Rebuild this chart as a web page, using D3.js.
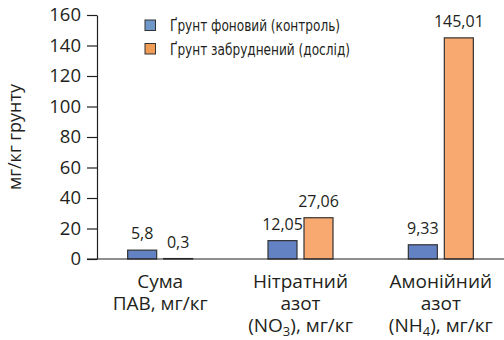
<!DOCTYPE html>
<html>
<head>
<meta charset="utf-8">
<script src="https://cdn.jsdelivr.net/npm/d3@7"></script>
<style>
  body { margin: 0; background: #fff; }
  text { font-family: "Open Sans", sans-serif; fill: #231f20; }
</style>
</head>
<body>
<div id="chart-area"></div>
<script>
// data
const categories = ["Сума ПАВ", "Нітратний азот", "Амонійний азот"];
const categoryLines = [
    ["Сума", "ПАВ, мг/кг"],
    ["Нітратний", "азот", "(NO_3), мг/кг"],
    ["Амонійний", "азот", "(NH_4), мг/кг"]
];
const seriesNames = ["Ґрунт фоновий (контроль)", "Ґрунт забруднений (дослід)"];
const background = [5.8, 12.05, 9.33];
const polluted = [0.3, 27.06, 145.01];
const yTicks = [0, 20, 40, 60, 80, 100, 120, 140, 160];

const width = 504;
const height = 340;
const barColors = ["#6282c3", "#f7a970"];
const legendColors = ["#6f98c9", "#ef9c57"];
const legendWidths = [170, 180];

const svg = d3.select("#chart-area")
    .append("svg")
    .attr("width", width)
    .attr("height", height);

const y = d3.scaleLinear().domain([0, 160]).range([259, 15]);
const x = d3.scaleBand().domain(categories).range([90, 511]);
const xs = d3.scaleBand()
    .domain([0, 1])
    .range([-32.5, 32.5])
    .paddingInner(0.194);

// y axis
const leftAxis = d3.axisLeft(y)
    .tickValues(yTicks)
    .tickSize(10)
    .tickSizeOuter(0)
    .tickPadding(6);
const yg = svg.append("g")
    .attr("transform", "translate(97,0)")
    .call(leftAxis);
yg.selectAll("path, line").attr("stroke", "#231f20").attr("stroke-width", 1.2);
yg.selectAll("text")
    .attr("font-size", "18.5px")
    .style("font-family", "'Open Sans', sans-serif")
    .attr("fill", "#231f20");

svg.append("text")
    .attr("transform", "translate(14,137) rotate(-90)")
    .attr("text-anchor", "middle")
    .attr("dominant-baseline", "central")
    .attr("font-size", "18px")
    .text("мг/кг грунту");

// bars
const rows = categories.map((c, i) => ({ cat: c, values: [background[i], polluted[i]] }));

const groups = svg.selectAll(".group")
    .data(rows)
    .enter()
    .append("g")
    .attr("class", "group")
    .attr("transform", (d) => "translate(" + (x(d.cat) + x.bandwidth() / 2) + ",0)");

groups.selectAll("rect")
    .data((d) => d.values)
    .enter()
    .append("rect")
    .attr("x", (d, i) => xs(i))
    .attr("y", (d) => y(d))
    .attr("width", xs.bandwidth())
    .attr("height", (d) => y(0) - y(d))
    .attr("fill", (d, i) => barColors[i])
    .attr("stroke", "#333")
    .attr("stroke-width", 1.2);

groups.selectAll(".value")
    .data((d) => d.values)
    .enter()
    .append("text")
    .attr("class", "value")
    .attr("x", (d, i) => xs(i) + xs.bandwidth() / 2)
    .attr("y", (d) => y(d) - 11)
    .attr("text-anchor", "middle")
    .attr("font-size", "16px")
    .text((d) => String(d).replace(".", ","));

// baseline
svg.append("line")
    .attr("x1", 87)
    .attr("x2", width)
    .attr("y1", y(0))
    .attr("y2", y(0))
    .attr("stroke", "#231f20")
    .attr("stroke-width", 1.2);

// category labels, one text per line
categoryLines.forEach((lines, i) => {
    const cx = x(categories[i]) + x.bandwidth() / 2;
    lines.forEach((line, j) => {
        const t = svg.append("text")
            .attr("x", cx)
            .attr("y", 288 + j * 22)
            .attr("text-anchor", "middle")
            .attr("font-size", "19px");
        const parts = line.split("_");
        if (parts.length === 1) {
            t.text(line);
        } else {
            t.append("tspan").text(parts[0]);
            t.append("tspan")
                .attr("font-size", "13px")
                .attr("dy", 4)
                .text(parts[1][0]);
            t.append("tspan")
                .attr("dy", -4)
                .text(parts[1].slice(1));
        }
    });
});

// legend
const legend = svg.selectAll(".legend")
    .data(seriesNames)
    .enter()
    .append("g")
    .attr("class", "legend")
    .attr("transform", (d, i) => "translate(145," + (20 + i * 23.5) + ")");

legend.append("rect")
    .attr("width", 10.5)
    .attr("height", 10.5)
    .attr("fill", (d, i) => legendColors[i])
    .attr("stroke", "#333")
    .attr("stroke-width", 1);

legend.append("text")
    .attr("x", 25)
    .attr("y", 5.5)
    .attr("dominant-baseline", "central")
    .attr("font-size", "16px")
    .attr("textLength", (d, i) => legendWidths[i])
    .attr("lengthAdjust", "spacingAndGlyphs")
    .style("font-family", "'Liberation Sans Narrow', 'DejaVu Sans Condensed', sans-serif")
    .text((d) => d);
</script>
</body>
</html>
